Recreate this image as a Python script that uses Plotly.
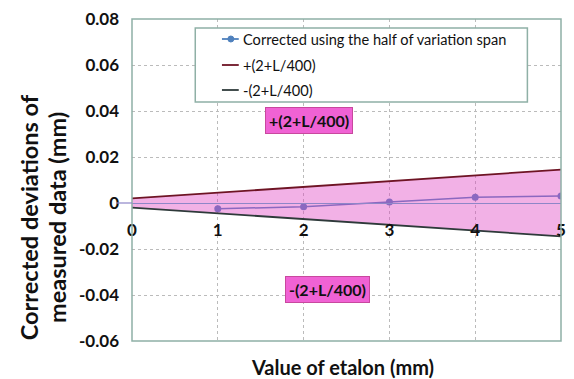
import plotly.graph_objects as go

# ---- data ----
etalon = [0, 1, 2, 3, 4, 5]
corr_x = [1, 2, 3, 4, 5]
corrected = [-0.0025, -0.0016, 0.0004, 0.0025, 0.003]
upper = [0.002, 0.0045, 0.007, 0.0095, 0.012, 0.0145]
lower = [-0.002, -0.0045, -0.007, -0.0095, -0.012, -0.0145]
y_ticks = [-0.06, -0.04, -0.02, 0, 0.02, 0.04, 0.06, 0.08]
y_labels = ["-0.06", "-0.04", "-0.02", "0", "0.02", "0.04", "0.06", "0.08"]
x_ticks = [0, 1, 2, 3, 4, 5]
legend_names = ["Corrected using the half of variation span", "+(2+L/400)", "-(2+L/400)"]
y_title_lines = ["Corrected deviations of", "measured data (mm)"]
x_title = "Value of etalon (mm)"

W, H = 574, 379
L, R, T, B = 132, 566, 19, 341

def px(x):
    return (x - L) / (R - L)

def py(y):
    return (B - y) / (B - T)

FONT = "Lato"
blue = "#4F81BD"
red = "#6E1424"
dark = "#2E3A3A"
fillc = "rgba(225,70,195,0.42)"
border = "#8FB0A6"

fig = go.Figure()
fig.add_trace(go.Scatter(x=corr_x, y=corrected, mode="lines+markers",
                         line=dict(color=blue, width=1.5),
                         marker=dict(color=blue, size=7), showlegend=False))
fig.add_trace(go.Scatter(x=etalon, y=lower, mode="lines",
                         line=dict(color=dark, width=1.8), showlegend=False))
fig.add_trace(go.Scatter(x=etalon, y=upper, mode="lines", fill="tonexty",
                         fillcolor=fillc,
                         line=dict(color=red, width=1.8), showlegend=False))

shapes = []
# plot border
shapes.append(dict(type="rect", xref="paper", yref="paper", x0=0, x1=1, y0=0, y1=1,
                   line=dict(color=border, width=1.5), layer="above"))
# short zero stub left of axis
shapes.append(dict(type="line", xref="paper", yref="y", x0=px(116), x1=0, y0=0, y1=0,
                   line=dict(color="#8E86C8", width=1.2)))
# legend box
lx0, lx1, ly0, ly1 = 196, 532, 28, 102
shapes.append(dict(type="rect", xref="paper", yref="paper", x0=px(lx0), x1=px(lx1),
                   y0=py(ly1), y1=py(ly0), fillcolor="white",
                   line=dict(color=border, width=1.5), layer="above"))
rows = [39, 65, 90]
cols = [blue, red, dark]
for yy, c in zip(rows, cols):
    shapes.append(dict(type="line", xref="paper", yref="paper", x0=px(223), x1=px(240),
                       y0=py(yy), y1=py(yy), line=dict(color=c, width=1.8), layer="above"))
shapes.append(dict(type="circle", xref="paper", yref="paper", x0=px(229), x1=px(235),
                   y0=py(rows[0] + 3), y1=py(rows[0] - 3), fillcolor=blue,
                   line=dict(color=blue, width=1), layer="above"))

annotations = []
for yy, name in zip(rows, legend_names):
    annotations.append(dict(xref="paper", yref="paper", x=px(242), y=py(yy), text=name,
                            showarrow=False, xanchor="left", yanchor="middle",
                            font=dict(family=FONT, size=14.6, color="#111")))
# band labels
annotations.append(dict(x=2.06, y=0.0357, text="<b>+(2+L/400)</b>", showarrow=False,
                        bgcolor="#F062D4", bordercolor="#C8489E", borderwidth=1, borderpad=3,
                        font=dict(family=FONT, size=16, color="#111")))
annotations.append(dict(x=2.28, y=-0.0376, text="<b>-(2+L/400)</b>", showarrow=False,
                        bgcolor="#F062D4", bordercolor="#C8489E", borderwidth=1, borderpad=3,
                        font=dict(family=FONT, size=16, color="#111")))
# axis titles
annotations.append(dict(xref="paper", yref="paper", x=px(345), y=py(367),
                        xanchor="center", yanchor="middle",
                        text="<b>" + x_title + "</b>", showarrow=False,
                        font=dict(family=FONT, size=20, color="#111")))
for xx, line in zip([28, 56], y_title_lines):
    annotations.append(dict(xref="paper", yref="paper", x=px(xx), y=py(217), textangle=-90,
                            xanchor="center", yanchor="middle",
                            text="<b>" + line + "</b>", showarrow=False,
                            font=dict(family=FONT, size=23.5, color="#111")))

fig.update_layout(
    width=W, height=H,
    margin=dict(l=L, r=W - R, t=T, b=H - B),
    paper_bgcolor="white", plot_bgcolor="white",
    shapes=shapes, annotations=annotations, showlegend=False,
    xaxis=dict(range=[0, 5], tickvals=x_ticks, anchor="free", position=0.06 / 0.14,
               showline=True, linecolor="#8E86C8", linewidth=1.2,
               showgrid=True, gridcolor="#BBBBBB", griddash="dot", gridwidth=1,
               zeroline=False, ticks="outside", ticklen=11, tickcolor="rgba(0,0,0,0)",
               tickfont=dict(family=FONT, size=17, color="#111", weight="bold")),
    yaxis=dict(range=[-0.06, 0.08], tickvals=y_ticks, ticktext=y_labels,
               showgrid=True, gridcolor="#BBBBBB", griddash="dot", gridwidth=1,
               zeroline=False, showline=False, ticklabelstandoff=12,
               tickfont=dict(family=FONT, size=17, color="#111", weight="bold")),
)

fig.write_html("out.html")
